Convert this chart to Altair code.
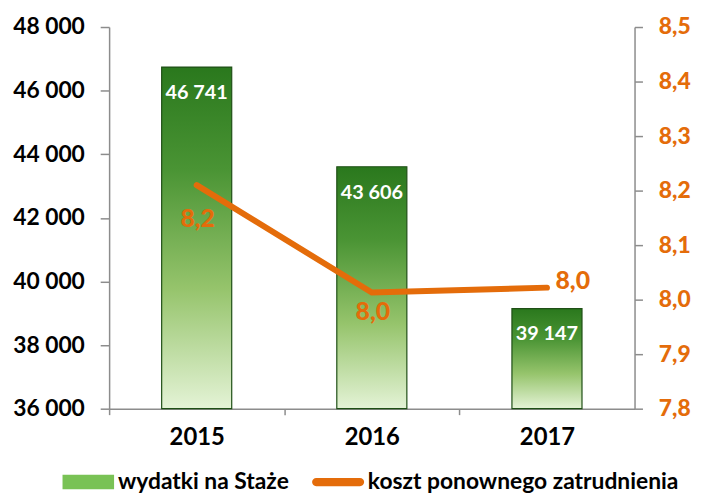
import altair as alt
import pandas as pd

years = ["2015", "2016", "2017"]
wydatki = [46741, 43606, 39147]
koszt = [8.21, 8.013, 8.022]
koszt_labels = ["8,2", "8,0", "8,0"]
series = ["wydatki na Staże", "koszt ponownego zatrudnienia"]
left_ticks = [36000, 38000, 40000, 42000, 44000, 46000, 48000]
right_ticks = [7.8, 7.9, 8.0, 8.1, 8.2, 8.3, 8.4, 8.5]

df = pd.DataFrame({
    "year": years,
    "wydatki": wydatki,
    "koszt": koszt,
    "bar_label": [f"{v:,}".replace(",", " ") for v in wydatki],
    "koszt_label": koszt_labels,
})
leg = pd.DataFrame({"series": series})

FONT = "Lato"
ORANGE = "#E46C0A"
GRAY = "#8C8C8C"
STEP = 530 / 3

x_enc = alt.X(
    "year:N",
    sort=years,
    scale=alt.Scale(paddingInner=0.6, paddingOuter=0.3),
    axis=alt.Axis(
        title=None, labelAngle=0, labelFont=FONT, labelFontWeight="bold",
        labelFontSize=24, labelColor="black", labelPadding=11,
        domainColor=GRAY, domainWidth=1.5, tickColor=GRAY, tickWidth=1.5,
        tickSize=6, tickOffset=-STEP / 2, labelOffset=STEP / 2,
    ),
)

y_left = alt.Y(
    "wydatki:Q",
    scale=alt.Scale(domain=[36000, 48000], nice=False, zero=False),
    axis=alt.Axis(
        title=None, orient="left", values=left_ticks, grid=False,
        labelExpr="replace(format(datum.value, ',.0f'), ',', ' ')",
        labelFont=FONT, labelFontWeight="bold", labelFontSize=23,
        labelColor="black", labelPadding=16, tickSize=9,
        domainColor=GRAY, domainWidth=1.5, tickColor=GRAY, tickWidth=1.5,
    ),
)

y_right = alt.Y(
    "koszt:Q",
    scale=alt.Scale(domain=[7.8, 8.5], nice=False, zero=False),
    axis=alt.Axis(
        title=None, orient="right", values=right_ticks, grid=False,
        labelExpr="replace(format(datum.value, '.1f'), '.', ',')",
        labelFont=FONT, labelFontWeight=900, labelFontSize=23,
        labelColor=ORANGE, labelPadding=16, tickSize=8,
        domainColor=GRAY, domainWidth=1.5, tickColor=GRAY, tickWidth=1.5,
    ),
)

base = alt.Chart(df)

bars = base.mark_bar(
    color=alt.Gradient(
        gradient="linear", x1=0, x2=0, y1=0, y2=1,
        stops=[
            alt.GradientStop(color="#2A781D", offset=0),
            alt.GradientStop(color="#4A9434", offset=0.3),
            alt.GradientStop(color="#96C46C", offset=0.65),
            alt.GradientStop(color="#E4F3D6", offset=1),
        ],
    ),
    stroke="#1F4F16", strokeWidth=1.2,
).encode(x=x_enc, y=y_left, y2=alt.datum(36000))

bar_text = base.mark_text(
    color="white", font=FONT, fontWeight="bold", fontSize=20,
    baseline="middle", dy=26,
).encode(x=x_enc, y=y_left, text="bar_label:N")

left = alt.layer(bars, bar_text)

line = base.mark_line(color=ORANGE, strokeWidth=6, strokeCap="round").encode(
    x=x_enc, y=y_right
)

def koszt_text(year, dx, dy):
    return base.transform_filter(alt.datum.year == year).mark_text(
        color=ORANGE, font=FONT, fontWeight=900, fontSize=25,
        baseline="middle", align="center", dx=dx, dy=dy,
    ).encode(x=x_enc, y=y_right, text="koszt_label:N")

t1 = koszt_text("2015", 1, 34)
t2 = koszt_text("2016", 1, 20)
t3 = koszt_text("2017", 26, -7)

bar_path = "M-1,-0.28H1V0.28H-1Z"
line_path = ("M-0.85,-0.16H0.85A0.16,0.16 0 0 1 0.85,0.16"
             "H-0.85A0.16,0.16 0 0 1 -0.85,-0.16Z")

legend_layer = alt.Chart(leg).mark_point(filled=True, opacity=1, size=1).encode(
    x=alt.value(-600), y=alt.value(-600),
    color=alt.Color(
        "series:N",
        scale=alt.Scale(domain=series, range=["#79C255", ORANGE]),
        legend=alt.Legend(
            title=None, orient="none", direction="horizontal",
            legendX=-47, legendY=433, symbolSize=2704, symbolOpacity=1,
            symbolStrokeWidth=0, labelFont=FONT, labelFontWeight="bold",
            labelFontSize=23, labelColor="black", labelOffset=4,
            columnPadding=22, labelLimit=400,
        ),
    ),
    shape=alt.Shape(
        "series:N",
        scale=alt.Scale(domain=series, range=[bar_path, line_path]),
    ),
)

right = alt.layer(line, t1, t2, t3, legend_layer)

chart = alt.layer(left, right).resolve_scale(y="independent").properties(
    width=530, height=385,
    autosize=alt.AutoSizeParams(type="none"),
    padding={"left": 102, "top": 17, "right": 62, "bottom": 100},
).configure_view(stroke=None)

chart.save("out.html", embed_options={"renderer": "svg", "actions": False})
